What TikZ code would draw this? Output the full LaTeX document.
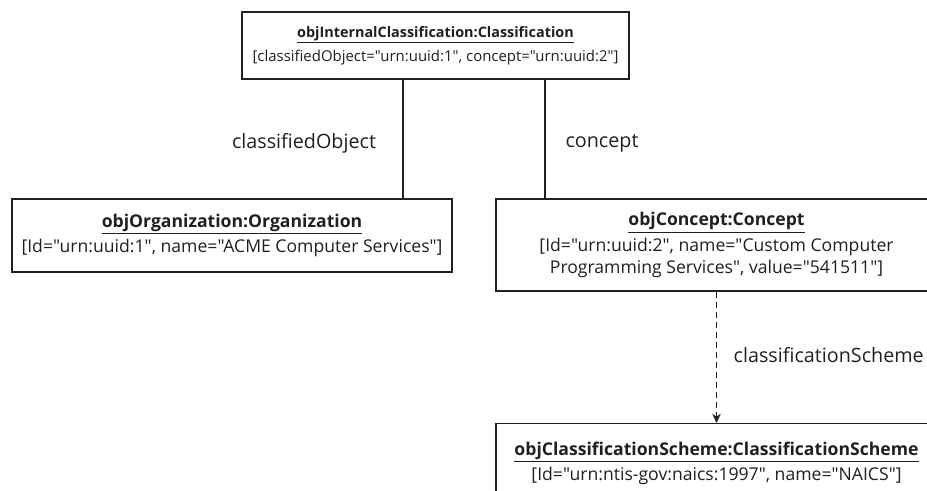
\documentclass[tikz,border=0pt]{standalone}
\usepackage{fontspec}
\setmainfont{Open Sans}[Ligatures=TeXOff]
\usetikzlibrary{arrows.meta}
\definecolor{umlink}{HTML}{231F20}

\tikzset{
  objbox/.style={draw=umlink, line width=0.9pt, fill=white, align=center,
    inner sep=0pt, font=\fontsize{13.2}{16.5}\selectfont, text=umlink},
  smallbox/.style={objbox, font=\fontsize{11.2}{13.5}\selectfont},
  boxsize/.style 2 args={minimum width=#1*0.75pt, minimum height=#2*0.75pt},
  rolelabel/.style={font=\fontsize{14.8}{17}\selectfont, text=umlink},
  assoc/.style={draw=umlink, line width=0.9pt},
  depend/.style={assoc, dash pattern=on 4.5pt off 3pt, -{Stealth[length=7pt,width=6.5pt]}}
}

\begin{document}
\begin{tikzpicture}[x=0.75pt,y=-0.75pt]
  \useasboundingbox (0,0) rectangle (927,490);
  \clip (0,0) rectangle (927,490);

  % object boxes
  \node[smallbox,boxsize={387}{67}] (cls) at (435.5,45.5)
    {\underline{\fontsize{10.8}{13.5}\selectfont\textbf{objInternalClassification:Classification}}\\[4.5pt]
     [classifiedObject="urn:uuid:1", concept="urn:uuid:2"]};
  \node[objbox,boxsize={440}{73}] (org) at (232,235.5)
    {\underline{\textbf{objOrganization:Organization}}\\[2.5pt]
     [Id="urn:uuid:1", name="ACME Computer Services"]};
  \node[objbox,boxsize={441}{92}] (cpt) at (716.5,245)
    {\underline{\textbf{objConcept:Concept}}\\[2.5pt]
     [Id="urn:uuid:2", name="Custom Computer\\
     Programming Services", value="541511"]};
  \node[objbox,boxsize={441}{80},anchor=north] (sch) at (716.5,423)
    {\underline{\textbf{objClassificationScheme:ClassificationScheme}}\\[2.5pt]
     [Id="urn:ntis-gov:naics:1997", name="NAICS"]};

  % link columns
  \coordinate (colA) at (403,0);
  \coordinate (colB) at (545,0);

  \draw[assoc] (cls.south -| colA) -- (org.north -| colA);
  \draw[assoc] (cls.south -| colB) -- (cpt.north -| colB);
  \draw[depend] (cpt.south) -- (sch.north);

  % role names
  \node[rolelabel] (lblA) at (304,143) {classifiedObject};
  \node[rolelabel] (lblB) at (602,143) {concept};
  \node[rolelabel,anchor=west] (lblC) at (729,355) {classificationScheme};
\end{tikzpicture}
\end{document}
